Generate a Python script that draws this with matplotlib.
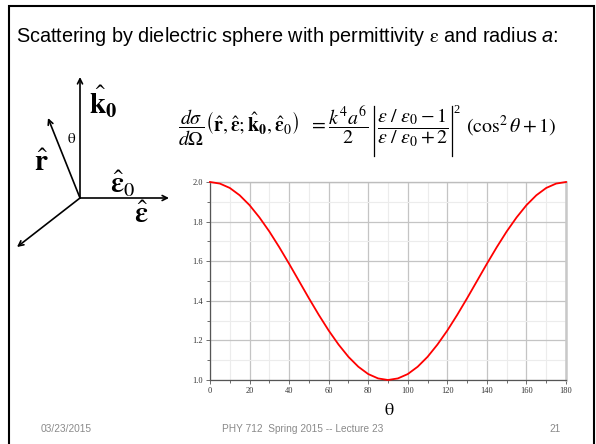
import matplotlib
matplotlib.use("Agg")
import matplotlib.pyplot as plt
from matplotlib.ticker import MultipleLocator

plt.rcParams['mathtext.fontset'] = 'stix'

# Angular distribution (cos^2(theta) + 1) sampled every 5 degrees
theta_deg = [0, 5, 10, 15, 20, 25, 30, 35, 40, 45, 50, 55, 60, 65, 70, 75, 80, 85, 90,
             95, 100, 105, 110, 115, 120, 125, 130, 135, 140, 145, 150, 155, 160, 165,
             170, 175, 180]
intensity = [2.000, 1.992, 1.970, 1.933, 1.883, 1.821, 1.750, 1.671, 1.587, 1.500,
             1.413, 1.329, 1.250, 1.179, 1.117, 1.067, 1.030, 1.008, 1.000,
             1.008, 1.030, 1.067, 1.117, 1.179, 1.250, 1.329, 1.413, 1.500, 1.587,
             1.671, 1.750, 1.821, 1.883, 1.933, 1.970, 1.992, 2.000]
x_ticks = [0, 20, 40, 60, 80, 100, 120, 140, 160, 180]
y_ticks = [1.0, 1.2, 1.4, 1.6, 1.8, 2.0]

W, H = 596, 444
fig = plt.figure(figsize=(W / 100, H / 100), dpi=100)
fig.patch.set_facecolor('white')


def rect(x0, y0, x1, y1):
    return [x0 / W, 1 - y1 / H, (x1 - x0) / W, (y1 - y0) / H]


# Overlay in pixel units for the slide frame, text and vector diagram
ov = fig.add_axes([0, 0, 1, 1])
ov.set_xlim(0, W)
ov.set_ylim(H, 0)
ov.axis('off')
renderer = fig.canvas.get_renderer()


def right_edge(txt):
    """Right edge of a text artist, in overlay pixel units."""
    return ov.transData.inverted().transform((txt.get_window_extent(renderer).x1, 0))[0]


# slide frame (open at the bottom)
ov.plot([8.5, 8.5, 593.5, 593.5], [H + 5, 6.5, 6.5, H + 5], color='black', lw=1.5,
        solid_joinstyle='miter')

# slide heading, with an italic "a" followed by a colon
head = dict(family='Liberation Sans', fontsize=14.3, va='baseline')
t1 = ov.text(16, 42, r'Scattering by dielectric sphere with permittivity $\mathrm{\varepsilon}$ and radius',
             ha='left', **head)
t2 = ov.text(right_edge(t1) + 4, 42, 'a', ha='left', style='italic', **head)
ov.text(right_edge(t2), 42, ':', ha='left', **head)

# diagram arrows
origin = (80, 198)
tips = [(80, 77), (48, 118), (169, 198), (17, 247)]
for tip in tips:
    ov.annotate('', xy=tip, xytext=origin,
                arrowprops=dict(arrowstyle='->', color='black', lw=1.2,
                                shrinkA=0, shrinkB=0, mutation_scale=9))

ov.text(89, 102, r'$\hat{\mathbf{k}}_{\mathbf{0}}$', fontsize=21, ha='left', va='center')
ov.text(72, 138, r'$\mathrm{\theta}$', fontsize=11, ha='center', va='center')
ov.text(34, 163, r'$\hat{\mathbf{r}}$', fontsize=21, ha='left', va='center')
ov.text(110, 184, r'$\hat{\mathbf{\varepsilon}}_{\mathrm{0}}$', fontsize=21, ha='left', va='center')
ov.text(134, 215, r'$\hat{\mathbf{\varepsilon}}$', fontsize=21, ha='left', va='center')

# cross-section formula, laid out piece by piece with thin absolute-value bars
fs = 14.3
base = 133
fa = ov.text(178, base,
             r'$\dfrac{d\sigma}{d\Omega}\left(\hat{\mathbf{r}},\hat{\mathbf{\varepsilon}};'
             r'\hat{\mathbf{k}}_{\mathbf{0}},\hat{\mathbf{\varepsilon}}_{0}\right)\ \ '
             r'=\dfrac{k^4a^6}{2}$',
             fontsize=fs, ha='left', va='baseline')
bar1 = right_edge(fa) + 5
ov.plot([bar1, bar1], [106, 156], color='black', lw=0.9)
fb = ov.text(bar1 + 3, base,
             r'$\dfrac{\varepsilon\ /\ \varepsilon_0-1}{\varepsilon\ /\ \varepsilon_0+2}$',
             fontsize=fs, ha='left', va='baseline')
bar2 = right_edge(fb) + 3
ov.plot([bar2, bar2], [106, 156], color='black', lw=0.9)
ov.text(bar2 + 2, 110, '2', family='Liberation Serif', fontsize=9, ha='left', va='center')
ov.text(bar2 + 14, base, r'$\left(\cos^2\theta+1\right)$',
        fontsize=fs, ha='left', va='baseline')

# footer
foot = dict(family='Liberation Sans', fontsize=7.3, color='#8a8a8a', va='center')
ov.text(41, 429, '03/23/2015', ha='left', **foot)
ov.text(303, 429, 'PHY 712  Spring 2015 -- Lecture 23', ha='center', **foot)
ov.text(561, 429, '21', ha='right', **foot)
ov.text(389, 410, r'$\mathrm{\theta}$', fontsize=13, ha='center', va='center')

# the plot
ax = fig.add_axes(rect(210, 182, 566, 380))
ax.plot(theta_deg, intensity, color='#ff0000', lw=1.3, zorder=3, clip_on=False)
ax.set_xlim(0, 180)
ax.set_ylim(1.0, 2.0)
ax.set_xticks(x_ticks)
ax.set_yticks(y_ticks)
ax.set_xticklabels([str(t) for t in x_ticks])
ax.set_yticklabels([f'{t:.1f}' for t in y_ticks])
ax.xaxis.set_minor_locator(MultipleLocator(10))
ax.yaxis.set_minor_locator(MultipleLocator(0.1))
ax.grid(which='major', color='#c4c4c4', lw=0.9)
ax.grid(which='minor', color='#ececec', lw=0.8)
ax.set_axisbelow(True)
ax.tick_params(which='both', direction='out', colors='#555555', width=0.6,
               labelsize=6.0, labelcolor='#333333', pad=2)
ax.tick_params(which='major', length=3)
ax.tick_params(which='minor', length=2)
for lab in ax.get_xticklabels() + ax.get_yticklabels():
    lab.set_family('Liberation Serif')
ax.spines['left'].set_color('#555555')
ax.spines['bottom'].set_color('#555555')
ax.spines['left'].set_linewidth(0.9)
ax.spines['bottom'].set_linewidth(0.9)
ax.spines['top'].set_color('#bdbdbd')
ax.spines['top'].set_linewidth(1.0)
ax.spines['right'].set_color('#c8c8c8')
ax.spines['right'].set_linewidth(1.8)

fig.savefig('out.png', dpi=100, facecolor='white')
